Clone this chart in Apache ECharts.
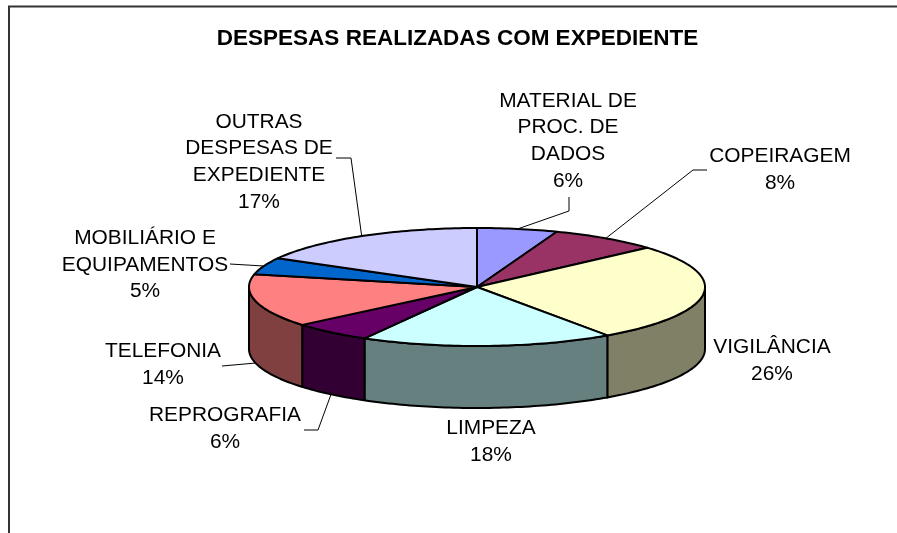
<!DOCTYPE html>
<html>
<head>
<meta charset="utf-8">
<style>html,body{margin:0;padding:0;background:#fff}#c{width:897px;height:533px}</style>
<script src="https://cdn.jsdelivr.net/npm/echarts@6/dist/echarts.min.js"></script>
</head>
<body>
<div id="c"></div>
<script>
const chartTitle = 'DESPESAS REALIZADAS COM EXPEDIENTE';
const categories = ['MATERIAL DE\nPROC. DE\nDADOS', 'COPEIRAGEM', 'VIGILÂNCIA', 'LIMPEZA', 'REPROGRAFIA', 'TELEFONIA', 'MOBILIÁRIO E\nEQUIPAMENTOS', 'OUTRAS\nDESPESAS DE\nEXPEDIENTE'];
const shares = [5.6, 7.6, 26.45, 17.6, 5.6, 14.3, 4.6, 16.6];
const topColors = ['#9999FF', '#993366', '#FFFFCC', '#CCFFFF', '#660066', '#FF8080', '#0066CC', '#CCCCFF'];
const sideColors = ['#4D4D80', '#4D1A33', '#808066', '#668080', '#330033', '#804040', '#003366', '#666680'];

// Layout only: label block centre and leader-line waypoints (null: no leader).
const labelAt = [[568, 141], [780, 169.5], [772, 360.5], [491, 441.5], [225, 428.5], [163, 365], [145, 265], [259, 162]];
const leaderVia = [[[569, 211], [569, 197]], [[693, 170], [707, 170]], null, null, [[318, 430], [304, 430]], [[222, 366]], [[230, 264]], [[351, 158], [336, 158]]];
const onRim = [false, false, false, false, true, true, false, false];
const cx = 477, cy = 287, rx = 228, ry = 59, depth = 62;
const total = shares.reduce((a, b) => a + b, 0);

function pt(t, dy) {
  return [cx + rx * Math.sin(t), cy - ry * Math.cos(t) + (dy || 0)];
}
function arc(a, b, dy) {
  const out = [], n = Math.max(2, Math.ceil(Math.abs(b - a) / 0.02));
  for (let i = 0; i <= n; i++) out.push(pt(a + (b - a) * i / n, dy));
  return out;
}

function renderItem(params, api) {
  const i = params.dataIndex;
  const v = api.value(0);
  let before = 0;
  for (let k = 0; k < i; k++) before += shares[k];
  const a = before / total * 2 * Math.PI;
  const b = (before + v) / total * 2 * Math.PI;
  const children = [];
  const line = { stroke: '#000', lineWidth: 2, lineJoin: 'round' };

  const s0 = Math.max(a, Math.PI / 2), s1 = Math.min(b, 3 * Math.PI / 2);
  if (s1 > s0) {
    const pts = arc(s0, s1, 0).concat(arc(s1, s0, depth));
    children.push({ type: 'polygon', z2: 1, shape: { points: pts }, style: Object.assign({ fill: sideColors[i] }, line) });
  }
  children.push({
    type: 'polygon', z2: 2,
    shape: { points: [[cx, cy]].concat(arc(a, b, 0)) },
    style: Object.assign({ fill: topColors[i] }, line)
  });

  if (leaderVia[i]) {
    const start = pt((a + b) / 2, onRim[i] ? depth : 0);
    children.push({
      type: 'polyline', z2: 3,
      shape: { points: [start].concat(leaderVia[i]) },
      style: { stroke: '#000', lineWidth: 1, fill: null }
    });
  }
  children.push({
    type: 'text', z2: 4,
    style: {
      text: categories[i] + '\n' + Math.round(v) + '%',
      x: labelAt[i][0], y: labelAt[i][1],
      align: 'center', verticalAlign: 'middle',
      font: '20.9px "Liberation Sans", Arial, sans-serif',
      lineHeight: 26.7, fill: '#000'
    }
  });
  return { type: 'group', children };
}

const chart = echarts.init(document.getElementById('c'), null, { renderer: 'canvas' });
chart.setOption({
  animation: false,
  backgroundColor: '#fff',
  title: {
    text: chartTitle, left: 452.5, top: 22, textAlign: 'center',
    textStyle: { fontFamily: '"Liberation Sans", Arial, sans-serif', fontWeight: 'bold', fontSize: 22.5, color: '#000' }
  },
  graphic: [{
    type: 'polyline', silent: true,
    shape: { points: [[9, 533], [9, 6.5], [897, 6.5]] },
    style: { stroke: '#333', lineWidth: 2, fill: null }
  }],
  series: [{
    type: 'custom',
    coordinateSystem: 'none',
    renderItem,
    data: shares.map(v => [v])
  }]
});
</script>
</body>
</html>
